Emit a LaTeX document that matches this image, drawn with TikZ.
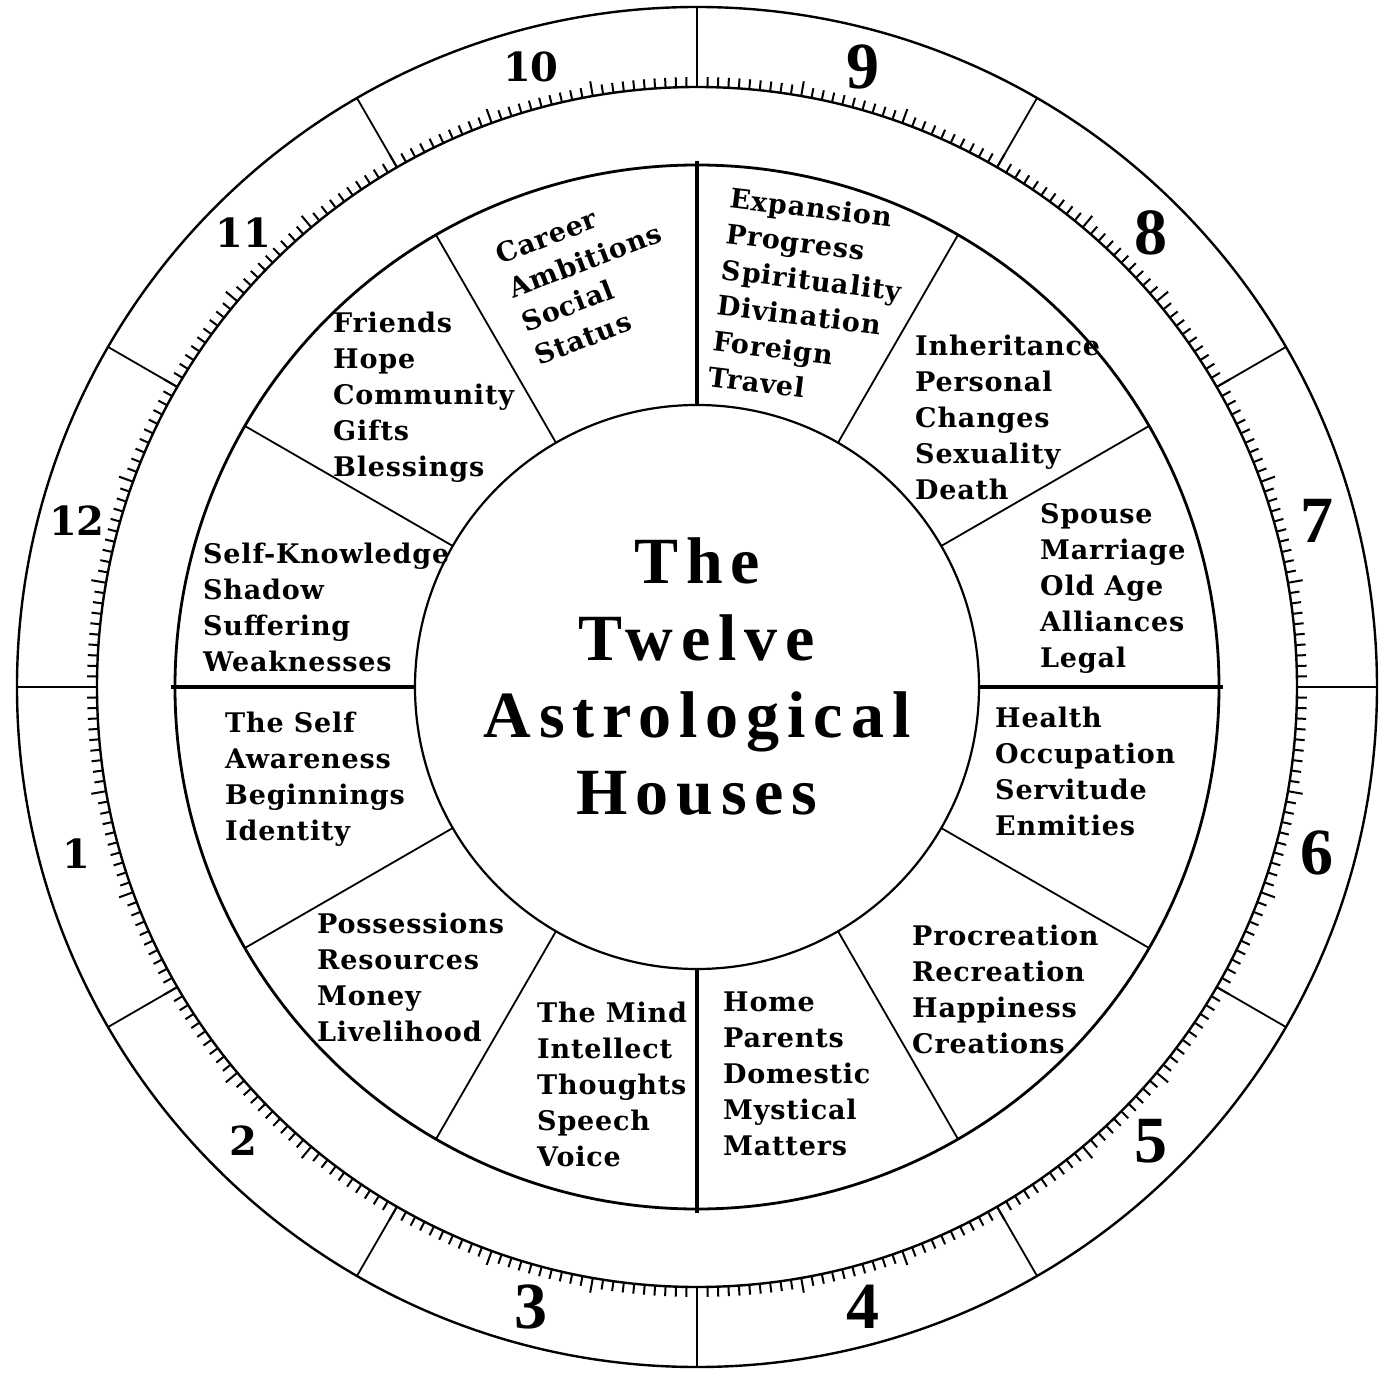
\documentclass[tikz,border=0pt]{standalone}
\usepackage{fontspec}
\setmainfont{Liberation Serif}
\newfontfamily\housefont[LetterSpace=3]{DejaVu Serif}
\newfontfamily\numfont{DejaVu Serif}
\newfontfamily\titlefont[LetterSpace=12]{Liberation Serif}
\tikzset{
  ring/.style={draw=black,line width=2.4pt},
  spoke/.style={draw=black,line width=1.8pt},
  mainspoke/.style={draw=black,line width=4pt},
  degtick/.style={draw=black,line width=2pt},
  housetext/.style={align=left,inner sep=0pt,anchor=north west,font=\housefont\bfseries\fontsize{27}{36}\selectfont},
  housenum/.style={inner sep=0pt,font=\numfont\bfseries\fontsize{40}{40}\selectfont},
  bignum/.style={housenum,font=\bfseries\fontsize{66}{66}\selectfont},
  titletext/.style={align=center,inner sep=0pt,anchor=north,font=\titlefont\bfseries\fontsize{66}{77}\selectfont}
}

\begin{document}
\begin{tikzpicture}[x=1pt,y=1pt]
  \useasboundingbox[fill=white] (-697,-691) rectangle (689,687);
  \draw[ring] (0,0) circle[radius=680];
  \draw[ring] (0,0) circle[radius=600];
  \draw[ring,line width=2.8pt] (0,0) circle[radius=522];
  \draw[ring,line width=2.2pt] (0,0) circle[radius=282];
  \foreach \a in {0,...,359}{
    \pgfmathsetmacro\len{mod(\a,10)==0 ? 15 : 10}
    \draw[degtick] (\a:600) -- (\a:{600+\len});
  }
  \foreach \a in {0,30,...,330}
    \draw[spoke] (\a:600) -- (\a:680);
  \foreach \a in {30,60,120,150,210,240,300,330}
    \draw[spoke] (\a:282) -- (\a:522);
  \foreach \a in {0,90,180,270}
    \draw[mainspoke] (\a:282) -- (\a:526);

  \foreach \n/\sty in {1/housenum,2/housenum,3/bignum,4/bignum,5/bignum,6/bignum,
                       7/bignum,8/bignum,9/bignum,10/housenum,11/housenum,12/housenum}
    \node[\sty] (num\n) at ({195+30*(\n-1)}:642) {\n};

  \node[titletext] (title) at (0,149) {The\\Twelve\\Astrological\\Houses};

  \node[housetext] (house1) at (-472,-25) {The Self\\Awareness\\Beginnings\\Identity};
  \node[housetext] (house2) at (-380,-226) {Possessions\\Resources\\Money\\Livelihood};
  \node[housetext] (house3) at (-160,-315) {The Mind\\Intellect\\Thoughts\\Speech\\Voice};
  \node[housetext] (house4) at (26,-305) {Home\\Parents\\Domestic\\Mystical\\Matters};
  \node[housetext] (house5) at (215,-238) {Procreation\\Recreation\\Happiness\\Creations};
  \node[housetext] (house6) at (298,-20) {Health\\Occupation\\Servitude\\Enmities};
  \node[housetext] (house7) at (343,184) {Spouse\\Marriage\\Old Age\\Alliances\\Legal};
  \node[housetext] (house8) at (218,352) {Inheritance\\Personal\\Changes\\Sexuality\\Death};
  \node[housetext,rotate=-7] (house9) at (35,500) {Expansion\\Progress\\Spirituality\\Divination\\Foreign\\Travel};
  \node[housetext,rotate=21] (house10) at (-204,441) {Career\\Ambitions\\Social\\Status};
  \node[housetext] (house11) at (-364,375) {Friends\\Hope\\Community\\Gifts\\Blessings};
  \node[housetext] (house12) at (-494,144) {Self-Knowledge\\Shadow\\Suffering\\Weaknesses};
\end{tikzpicture}
\end{document}
